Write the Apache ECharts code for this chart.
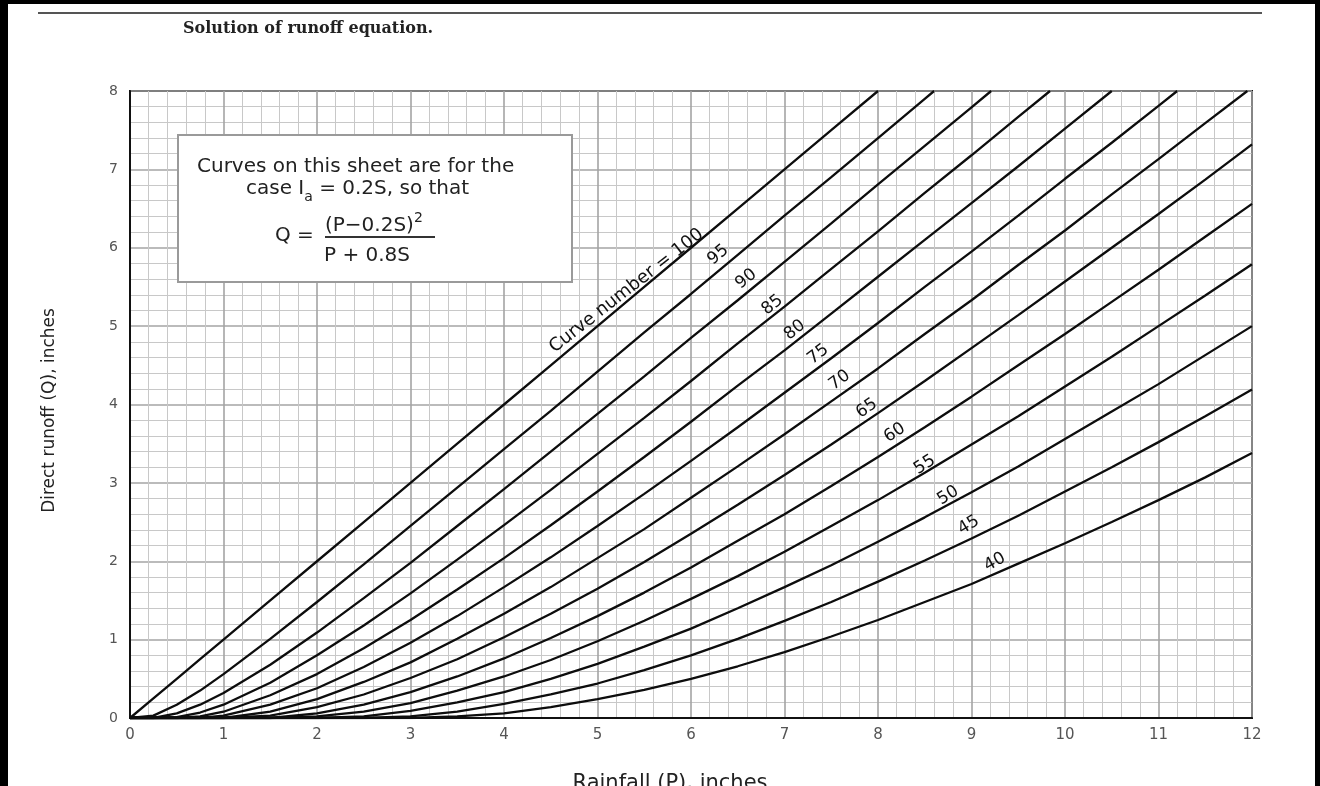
<!DOCTYPE html>
<html>
<head>
<meta charset="utf-8">
<script src="https://cdn.jsdelivr.net/npm/echarts@6/dist/echarts.min.js"></script>
<style>
  html, body { margin: 0; padding: 0; background: #fff; }
  #chart { width: 1320px; height: 786px; }
</style>
</head>
<body>
<div id="chart"></div>
<script>
// Rainfall P (inches) at which runoff is tabulated
const rainfall = [0, 0.25, 0.5, 0.75, 1, 1.5, 2, 2.5, 3, 3.5, 4, 4.5, 5, 5.5, 6, 6.5, 7, 7.5, 8, 8.5, 9, 9.5, 10, 10.5, 11, 11.5, 12];

// Direct runoff Q (inches) for each curve number; null once the curve has left the chart
const q100 = [0, 0.25, 0.5, 0.75, 1, 1.5, 2, 2.5, 3, 3.5, 4, 4.5, 5, 5.5, 6, 6.5, 7, 7.5, 8, null, null, null, null, null, null, null, null];
const q95 = [0, 0.03, 0.17, 0.35, 0.56, 1.01, 1.48, 1.96, 2.45, 2.94, 3.43, 3.92, 4.42, 4.92, 5.41, 5.91, 6.41, 6.90, 7.40, 7.90, null, null, null, null, null, null, null];
const q90 = [0, 0, 0.06, 0.17, 0.32, 0.68, 1.09, 1.53, 1.98, 2.45, 2.92, 3.40, 3.88, 4.36, 4.85, 5.33, 5.82, 6.31, 6.81, 7.30, 7.79, null, null, null, null, null, null];
const q85 = [0, 0, 0.01, 0.07, 0.17, 0.45, 0.80, 1.18, 1.59, 2.02, 2.46, 2.91, 3.37, 3.83, 4.30, 4.78, 5.25, 5.73, 6.21, 6.70, 7.18, 7.67, null, null, null, null, null];
const q80 = [0, 0, 0, 0.02, 0.08, 0.29, 0.56, 0.89, 1.25, 1.64, 2.04, 2.46, 2.89, 3.33, 3.78, 4.24, 4.69, 5.16, 5.63, 6.10, 6.57, 7.04, 7.52, null, null, null, null];
const q75 = [0, 0, 0, 0, 0.03, 0.17, 0.38, 0.65, 0.96, 1.30, 1.67, 2.05, 2.45, 2.86, 3.28, 3.71, 4.15, 4.59, 5.04, 5.50, 5.95, 6.41, 6.88, 7.34, 7.81, null, null];
const q70 = [0, 0, 0, 0, 0, 0.08, 0.24, 0.46, 0.71, 1.01, 1.33, 1.67, 2.04, 2.41, 2.81, 3.21, 3.62, 4.04, 4.46, 4.90, 5.33, 5.78, 6.22, 6.68, 7.13, 7.59, null];
const q65 = [0, 0, 0, 0, 0, 0.03, 0.14, 0.30, 0.51, 0.75, 1.03, 1.33, 1.65, 1.99, 2.35, 2.72, 3.10, 3.49, 3.89, 4.30, 4.72, 5.14, 5.57, 6.00, 6.43, 6.87, 7.32];
const q60 = [0, 0, 0, 0, 0, 0, 0.06, 0.17, 0.33, 0.53, 0.76, 1.02, 1.30, 1.60, 1.92, 2.26, 2.60, 2.96, 3.33, 3.71, 4.10, 4.50, 4.90, 5.31, 5.72, 6.14, 6.56];
const q55 = [0, 0, 0, 0, 0, 0, 0.02, 0.08, 0.19, 0.35, 0.53, 0.74, 0.98, 1.24, 1.52, 1.81, 2.12, 2.45, 2.78, 3.13, 3.49, 3.85, 4.23, 4.61, 5.00, 5.39, 5.79];
const q50 = [0, 0, 0, 0, 0, 0, 0, 0.02, 0.09, 0.20, 0.33, 0.50, 0.69, 0.91, 1.14, 1.40, 1.67, 1.95, 2.25, 2.56, 2.88, 3.21, 3.56, 3.91, 4.26, 4.63, 5.00];
const q45 = [0, 0, 0, 0, 0, 0, 0, 0, 0.02, 0.08, 0.18, 0.30, 0.44, 0.61, 0.80, 1.01, 1.24, 1.48, 1.74, 2.01, 2.29, 2.58, 2.89, 3.20, 3.52, 3.85, 4.19];
const q40 = [0, 0, 0, 0, 0, 0, 0, 0, 0, 0.02, 0.06, 0.14, 0.24, 0.36, 0.50, 0.66, 0.84, 1.04, 1.25, 1.48, 1.71, 1.97, 2.23, 2.50, 2.78, 3.07, 3.38];

const curveNumbers = [100, 95, 90, 85, 80, 75, 70, 65, 60, 55, 50, 45, 40];
const runoffByCurve = [q100, q95, q90, q85, q80, q75, q70, q65, q60, q55, q50, q45, q40];
// Rainfall where each curve reaches the top of the chart (Q = 8 in.)
const topExitRainfall = [8, 8.60, 9.21, 9.84, 10.50, 11.20, 11.95, null, null, null, null, null, null];

// In-chart curve labels
const curveLabelText = ['Curve number = 100', '95', '90', '85', '80', '75', '70', '65', '60', '55', '50', '45', '40'];
const curveLabelRainfall = [5.31, 6.29, 6.59, 6.87, 7.11, 7.36, 7.59, 7.88, 8.18, 8.50, 8.75, 8.97, 9.25];
const curveLabelRunoff = [5.45, 5.91, 5.60, 5.27, 4.95, 4.64, 4.31, 3.95, 3.64, 3.23, 2.84, 2.46, 1.99];
const curveLabelAngle = [38, 40, 39, 39, 38, 37, 36, 35, 34, 33, 32, 31, 29];

const xTickLabels = ['0', '1', '2', '3', '4', '5', '6', '7', '8', '9', '10', '11', '12'];
const yTickLabels = ['0', '1', '2', '3', '4', '5', '6', '7', '8'];

const SANS = '"DejaVu Sans", "Liberation Sans", Arial, sans-serif';

function curveData(i) {
  const q = runoffByCurve[i];
  const pts = [];
  rainfall.forEach((p, k) => { if (q[k] !== null) pts.push([p, q[k]]); });
  const exit = topExitRainfall[i];
  if (exit !== null && pts[pts.length - 1][0] < exit) pts.push([exit, 8]);
  return pts;
}

const curveSeries = curveNumbers.map((cn, i) => ({
  name: 'CN ' + cn,
  type: 'line',
  data: curveData(i),
  showSymbol: false,
  symbol: 'none',
  lineStyle: { color: '#0d0d0d', width: 2.3 },
  z: 3,
  silent: true
}));

const labelSeries = {
  type: 'scatter',
  symbolSize: 0,
  silent: true,
  z: 4,
  itemStyle: { opacity: 1 },
  data: curveLabelText.map((t, i) => ({
    value: [curveLabelRainfall[i], curveLabelRunoff[i]],
    label: {
      show: true,
      formatter: t,
      rotate: curveLabelAngle[i],
      position: 'inside',
      align: 'center',
      verticalAlign: 'middle',
      fontFamily: SANS,
      fontSize: i === 0 ? 18 : 17,
      color: '#111',
      opacity: 1
    }
  }))
};

const chart = echarts.init(document.getElementById('chart'), null, { renderer: 'canvas' });

chart.setOption({
  animation: false,
  backgroundColor: '#fff',
  grid: {
    left: 130, right: 68, top: 91, bottom: 68,
    containLabel: false, outerBoundsMode: 'none',
    show: true, borderColor: '#111', borderWidth: 2, backgroundColor: '#fff'
  },
  xAxis: {
    type: 'value', min: 0, max: 12, interval: 1,
    name: 'Rainfall (P), inches',
    nameLocation: 'middle', nameGap: 55,
    nameTextStyle: { fontFamily: SANS, fontSize: 21, color: '#222', padding: [0, 42, 0, 0] },
    axisLine: { show: true, lineStyle: { color: '#111', width: 2 } },
    axisTick: { show: false },
    axisLabel: {
      margin: 10, fontFamily: SANS, fontSize: 15, color: '#555',
      formatter: v => xTickLabels[Math.round(v)]
    },
    splitLine: { show: true, lineStyle: { color: '#a4a4a4', width: 1.6 } },
    minorTick: { show: false, splitNumber: 5 },
    minorSplitLine: { show: true, lineStyle: { color: '#c8c8c8', width: 1 } }
  },
  yAxis: {
    type: 'value', min: 0, max: 8, interval: 1,
    name: 'Direct runoff (Q), inches',
    nameLocation: 'middle', nameGap: 72, nameRotate: 90,
    nameTextStyle: { fontFamily: SANS, fontSize: 17, color: '#222', padding: [0, 12, 0, 0] },
    axisLine: { show: true, lineStyle: { color: '#111', width: 2 } },
    axisTick: { show: false },
    axisLabel: {
      margin: 12, fontFamily: SANS, fontSize: 14, color: '#555',
      formatter: v => yTickLabels[Math.round(v)]
    },
    splitLine: { show: true, lineStyle: { color: '#a4a4a4', width: 1.6 } },
    minorTick: { show: false, splitNumber: 5 },
    minorSplitLine: { show: true, lineStyle: { color: '#c8c8c8', width: 1 } }
  },
  graphic: [
    // page frame
    { type: 'rect', z: 100, shape: { x: 0, y: 0, width: 8, height: 786 }, style: { fill: '#000' } },
    { type: 'rect', z: 100, shape: { x: 0, y: 0, width: 1320, height: 4 }, style: { fill: '#000' } },
    { type: 'rect', z: 100, shape: { x: 1315, y: 0, width: 5, height: 786 }, style: { fill: '#000' } },
    // header rule
    { type: 'line', z: 100, shape: { x1: 38, y1: 13, x2: 1262, y2: 13 }, style: { stroke: '#555', lineWidth: 2 } },
    {
      type: 'text', z: 100, left: 183, top: 21,
      style: { text: 'Solution of runoff equation.', font: 'bold 16px "DejaVu Serif", "Liberation Serif", serif', fill: '#222' }
    },
    // equation note box
    {
      type: 'rect', z: 50, shape: { x: 178, y: 135, width: 394, height: 147 },
      style: { fill: '#fff', stroke: '#9a9a9a', lineWidth: 2 }
    },
    {
      type: 'text', z: 51, x: 197, y: 167,
      style: { text: 'Curves on this sheet are for the', font: '20px ' + SANS, fill: '#222', verticalAlign: 'middle' }
    },
    {
      type: 'text', z: 51, x: 246, y: 189,
      style: {
        text: '{n|case I}{s|a}{n| = 0.2S, so that}',
        verticalAlign: 'middle', fill: '#222',
        rich: {
          n: { fontFamily: SANS, fontSize: 20, lineHeight: 30, fill: '#222' },
          s: { fontFamily: SANS, fontSize: 14, lineHeight: 14, verticalAlign: 'bottom', fill: '#222' }
        }
      }
    },
    {
      type: 'text', z: 51, x: 275, y: 236,
      style: { text: 'Q =', font: '20px ' + SANS, fill: '#222', verticalAlign: 'middle' }
    },
    {
      type: 'text', z: 51, x: 325, y: 226,
      style: {
        text: '{n|(P\u22120.2S)}{p|2}',
        verticalAlign: 'middle', fill: '#222',
        rich: {
          n: { fontFamily: SANS, fontSize: 20, lineHeight: 30, fill: '#222' },
          p: { fontFamily: SANS, fontSize: 14, lineHeight: 14, verticalAlign: 'top', fill: '#222' }
        }
      }
    },
    { type: 'line', z: 51, shape: { x1: 325, y1: 237, x2: 435, y2: 237 }, style: { stroke: '#333', lineWidth: 2 } },
    {
      type: 'text', z: 51, x: 324, y: 256,
      style: { text: 'P + 0.8S', font: '20px ' + SANS, fill: '#222', verticalAlign: 'middle' }
    }
  ],
  series: curveSeries.concat([labelSeries])
});
</script>
</body>
</html>
